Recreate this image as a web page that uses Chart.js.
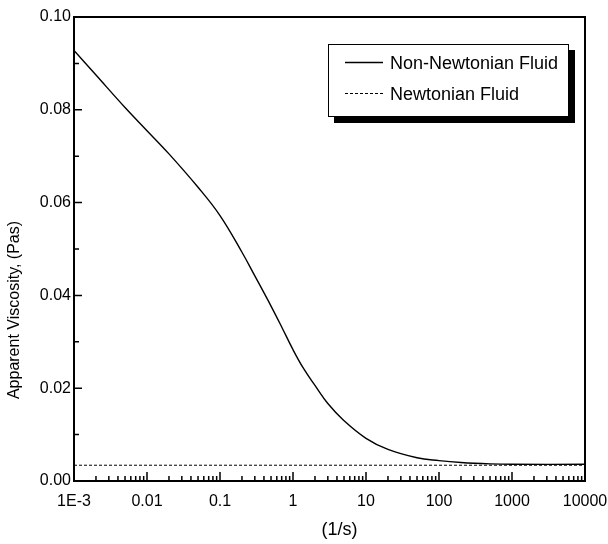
<!DOCTYPE html>
<html>
<head>
<meta charset="utf-8">
<script src="https://cdn.jsdelivr.net/npm/chart.js@4/dist/chart.umd.min.js"></script>
<style>
  html, body { margin: 0; padding: 0; background: #fff; }
  canvas { display: block; }
</style>
</head>
<body>
<canvas id="c" width="608" height="544"></canvas>
<script>
// Shear rate (1/s) and apparent viscosity (Pas)
const shearRate = [0.001, 0.002, 0.005, 0.01, 0.02, 0.05, 0.1, 0.2, 0.3, 0.5, 0.7,
                   1, 1.4, 2, 3, 5, 10, 20, 50, 100, 200, 500, 1000, 10000];
const nonNewtonian = [0.0928, 0.0875, 0.0805, 0.0755, 0.0705, 0.0633, 0.0572, 0.0493, 0.0442, 0.0377, 0.0332,
                      0.0283, 0.0242, 0.0206, 0.0167, 0.0130, 0.0092, 0.0068, 0.0050, 0.0044, 0.0040, 0.0037, 0.0036, 0.0036];
const newtonianRate = [0.001, 10000];
const newtonian = [0.0034, 0.0034];

const seriesNames = ['Non-Newtonian Fluid', 'Newtonian Fluid'];
const xTickValues = [0.001, 0.01, 0.1, 1, 10, 100, 1000, 10000];
const xTickLabels = ['1E-3', '0.01', '0.1', '1', '10', '100', '1000', '10000'];
const yTickValues = [0, 0.02, 0.04, 0.06, 0.08, 0.10];
const yTickLabels = ['0.00', '0.02', '0.04', '0.06', '0.08', '0.10'];
const xTitle = '(1/s)';
const yTitle = 'Apparent Viscosity, (Pas)';

const FONT = "'Liberation Sans', Arial, Helvetica, sans-serif";

const toPoints = (xs, ys) => xs.map((x, i) => ({ x, y: ys[i] }));

// Frame, inward ticks, axis titles and the shadowed legend box
const decorations = {
  id: 'decorations',
  afterDraw(chart) {
    const { ctx, chartArea: a, scales: { x, y } } = chart;
    ctx.save();
    ctx.strokeStyle = '#000';
    ctx.fillStyle = '#000';

    // inward tick marks
    ctx.lineWidth = 1.5;
    ctx.beginPath();
    xTickValues.forEach((v, i) => {
      const px = x.getPixelForValue(v);
      ctx.moveTo(px, a.bottom); ctx.lineTo(px, a.bottom - 9);
      if (i < xTickValues.length - 1) {
        for (let k = 2; k <= 9; k++) {
          const m = x.getPixelForValue(v * k);
          ctx.moveTo(m, a.bottom); ctx.lineTo(m, a.bottom - 5);
        }
      }
    });
    yTickValues.forEach((v, i) => {
      const py = y.getPixelForValue(v);
      ctx.moveTo(a.left, py); ctx.lineTo(a.left + 8, py);
      if (i < yTickValues.length - 1) {
        const m = y.getPixelForValue((v + yTickValues[i + 1]) / 2);
        ctx.moveTo(a.left, m); ctx.lineTo(a.left + 5, m);
      }
    });
    ctx.stroke();

    // plot frame
    ctx.lineWidth = 2;
    ctx.strokeRect(a.left, a.top, a.right - a.left, a.bottom - a.top);

    // axis titles
    ctx.textAlign = 'center';
    ctx.textBaseline = 'alphabetic';
    ctx.font = `18px ${FONT}`;
    ctx.fillText(xTitle, (a.left + a.right) / 2 + 10, 535);
    ctx.save();
    ctx.font = `16px ${FONT}`;
    ctx.translate(19, (a.top + a.bottom) / 2 + 61);
    ctx.rotate(-Math.PI / 2);
    ctx.fillText(yTitle, 0, 0);
    ctx.restore();

    // legend box with drop shadow
    const bx = a.right - 257, by = a.top + 27, bw = 241, bh = 73;
    ctx.fillStyle = '#000';
    ctx.fillRect(bx + 6, by + 6, bw, bh);
    ctx.fillStyle = '#fff';
    ctx.fillRect(bx, by, bw, bh);
    ctx.lineWidth = 1;
    ctx.strokeRect(bx + 0.5, by + 0.5, bw - 1, bh - 1);

    ctx.textAlign = 'left';
    ctx.font = `18px ${FONT}`;
    chart.data.datasets.forEach((ds, i) => {
      const ry = by + 18 + i * 31;
      ctx.save();
      ctx.strokeStyle = ds.borderColor;
      ctx.lineWidth = ds.borderWidth;
      ctx.setLineDash(ds.borderDash || []);
      ctx.beginPath();
      ctx.moveTo(bx + 17, ry + 0.5);
      ctx.lineTo(bx + 55, ry + 0.5);
      ctx.stroke();
      ctx.restore();
      ctx.fillStyle = '#000';
      ctx.fillText(ds.label, bx + 62, ry + 6.5);
    });
    ctx.restore();
  }
};

new Chart(document.getElementById('c'), {
  type: 'line',
  data: {
    datasets: [
      {
        label: seriesNames[0],
        data: toPoints(shearRate, nonNewtonian),
        borderColor: '#000',
        borderWidth: 1.4,
        pointRadius: 0,
        tension: 0.4,
        fill: false
      },
      {
        label: seriesNames[1],
        data: toPoints(newtonianRate, newtonian),
        borderColor: '#000',
        borderWidth: 1,
        borderDash: [3, 2],
        pointRadius: 0,
        fill: false
      }
    ]
  },
  options: {
    responsive: false,
    devicePixelRatio: 1,
    animation: false,
    layout: { padding: { top: 17, right: 23, left: 0, bottom: 0 } },
    plugins: {
      legend: { display: false },
      tooltip: { enabled: false }
    },
    scales: {
      x: {
        type: 'logarithmic',
        min: 0.001,
        max: 10000,
        grid: { display: false, drawTicks: false },
        border: { display: false },
        afterBuildTicks: s => { s.ticks = xTickValues.map(v => ({ value: v })); },
        afterFit: s => { s.height = 63; s.paddingLeft = 0; s.paddingRight = 0; },
        ticks: {
          autoSkip: false,
          maxRotation: 0,
          padding: 11,
          color: '#000',
          font: { family: FONT, size: 16 },
          callback: (v, i) => xTickLabels[i]
        }
      },
      y: {
        type: 'linear',
        min: 0,
        max: 0.10,
        grid: { display: false, drawTicks: false },
        border: { display: false },
        afterBuildTicks: s => { s.ticks = yTickValues.map(v => ({ value: v })); },
        afterFit: s => { s.width = 74; s.paddingTop = 0; s.paddingBottom = 0; },
        ticks: {
          padding: 3,
          color: '#000',
          font: { family: FONT, size: 16 },
          callback: (v, i) => yTickLabels[i]
        }
      }
    }
  },
  plugins: [decorations]
});
</script>
</body>
</html>
